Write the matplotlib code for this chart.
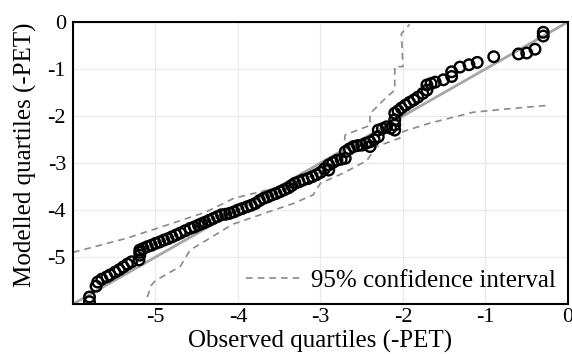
import matplotlib
matplotlib.use("Agg")
import matplotlib.pyplot as plt

observed = [-5.80, -5.80, -5.72, -5.70, -5.65, -5.59, -5.55, -5.49, -5.44, -5.39,
            -5.34, -5.29, -5.20, -5.19, -5.19, -5.19, -5.15, -5.10, -5.05, -5.00,
            -4.95, -4.90, -4.85, -4.80, -4.75, -4.70, -4.64, -4.58, -4.53, -4.48,
            -4.44, -4.40, -4.35, -4.30, -4.25, -4.20, -4.15, -4.10, -4.05, -4.00,
            -3.95, -3.89, -3.84, -3.79, -3.74, -3.69, -3.64, -3.59, -3.54, -3.49,
            -3.44, -3.39, -3.35, -3.31, -3.26, -3.21, -3.15, -3.10, -3.05, -3.00,
            -2.95, -2.90, -2.90, -2.85, -2.80, -2.75, -2.70, -2.70, -2.65, -2.60,
            -2.55, -2.50, -2.45, -2.40, -2.40, -2.35, -2.30, -2.30, -2.25, -2.20,
            -2.15, -2.10, -2.10, -2.10, -2.10, -2.06, -2.02, -1.97, -1.92, -1.87,
            -1.82, -1.76, -1.71, -1.71, -1.66, -1.61, -1.51, -1.41, -1.41, -1.31,
            -1.20, -1.10, -0.90, -0.60, -0.50, -0.40, -0.30, -0.30]
modelled = [-5.95, -5.85, -5.62, -5.53, -5.47, -5.42, -5.38, -5.32, -5.27, -5.21,
            -5.15, -5.10, -5.06, -4.96, -4.90, -4.85, -4.82, -4.78, -4.75, -4.71,
            -4.68, -4.64, -4.61, -4.57, -4.53, -4.49, -4.44, -4.39, -4.36, -4.32,
            -4.29, -4.26, -4.22, -4.18, -4.14, -4.10, -4.09, -4.07, -4.04, -4.00,
            -3.97, -3.93, -3.90, -3.86, -3.80, -3.75, -3.72, -3.68, -3.65, -3.61,
            -3.57, -3.53, -3.48, -3.43, -3.40, -3.36, -3.33, -3.29, -3.25, -3.20,
            -3.12, -3.15, -3.04, -2.99, -2.94, -2.92, -2.90, -2.76, -2.70, -2.65,
            -2.63, -2.62, -2.58, -2.65, -2.55, -2.50, -2.44, -2.30, -2.27, -2.23,
            -2.26, -2.30, -2.19, -2.08, -1.94, -1.89, -1.83, -1.77, -1.71, -1.66,
            -1.60, -1.52, -1.45, -1.34, -1.31, -1.28, -1.23, -1.16, -1.06, -0.96,
            -0.91, -0.86, -0.74, -0.68, -0.66, -0.58, -0.30, -0.22]

ci_upper_x = [-6.0, -5.35, -5.0, -4.4, -4.05, -3.4, -3.0, -2.73, -2.7, -2.4, -2.4,
              -2.2, -2.1, -2.1, -2.0, -2.02, -1.92]
ci_upper_y = [-4.9, -4.6, -4.4, -4.05, -3.75, -3.47, -3.2, -2.8, -2.4, -2.2, -1.95,
              -1.6, -1.45, -0.95, -0.95, -0.25, -0.05]
ci_lower_x = [-5.1, -5.05, -5.0, -4.7, -4.58, -4.06, -3.73, -3.33, -3.09, -3.0, -2.73,
              -2.44, -2.32, -2.04, -2.0, -1.67, -1.15, -0.74, -0.22]
ci_lower_y = [-5.85, -5.6, -5.5, -5.2, -4.85, -4.3, -4.1, -3.86, -3.68, -3.43, -3.22,
              -2.95, -2.65, -2.47, -2.33, -2.15, -1.92, -1.85, -1.77]

x_ticks = [-5, -4, -3, -2, -1, 0]
y_ticks = [0, -1, -2, -3, -4, -5]
tick_labels_x = ["-5", "-4", "-3", "-2", "-1", "0"]
tick_labels_y = ["0", "-1", "-2", "-3", "-4", "-5"]

plt.rcParams['font.family'] = ['Liberation Serif', 'DejaVu Serif']

fig = plt.figure(figsize=(5.72, 3.54), dpi=100)
ax = fig.add_axes([0.1276, 0.141, 0.8654, 0.797])

ax.set_xlim(-6, 0)
ax.set_ylim(-6, 0)
ax.set_xticks([-6] + x_ticks)
ax.set_xticklabels([""] + tick_labels_x)
ax.set_yticks([-6] + y_ticks)
ax.set_yticklabels([""] + tick_labels_y)
ax.grid(True, color="#ebebeb", linewidth=1.0)
ax.set_axisbelow(True)
ax.tick_params(axis="x", length=0, labelsize=16, pad=3)
ax.tick_params(axis="y", length=0, labelsize=16, pad=5)

ax.plot([-6, 0], [-6, 0], color="#a6a6a6", linewidth=2, zorder=2)
ax.plot(ci_upper_x, ci_upper_y, color="#8a8a8a", linestyle=(0, (4, 3)), linewidth=1.2,
        label="95% confidence interval", zorder=2)
ax.plot(ci_lower_x, ci_lower_y, color="#8a8a8a", linestyle=(0, (4, 3)), linewidth=1.2, zorder=2)
ax.scatter(observed, modelled, s=58, facecolors="none", edgecolors="black", linewidths=1.7, zorder=3)

for sp in ax.spines.values():
    sp.set_linewidth(1.5)
    sp.set_color("black")

ax.set_xlabel("Observed quartiles (-PET)", fontsize=18)
ax.xaxis.set_label_coords(0.5, -0.09)
ax.set_ylabel("Modelled quartiles (-PET)", fontsize=18)
ax.yaxis.set_label_coords(-0.072, 0.53)
ax.legend(loc="lower right", frameon=False, fontsize=18, handlelength=2.2,
          borderaxespad=0.1, handletextpad=0.4)

fig.savefig("out.png", dpi=100)
